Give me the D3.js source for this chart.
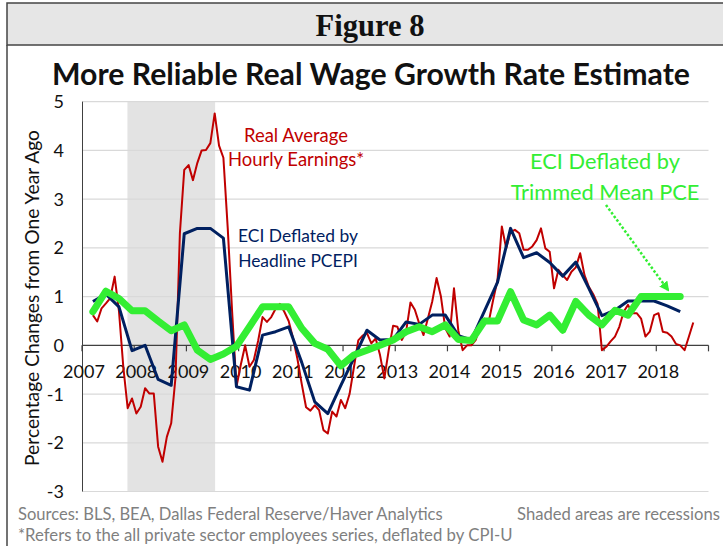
<!DOCTYPE html>
<html>
<head>
<meta charset="utf-8">
<script src="https://cdn.jsdelivr.net/npm/d3@7"></script>
<style>
  html, body { margin: 0; padding: 0; background: #fff; }
  svg { display: block; font-family: Lato, "Open Sans", sans-serif; }
</style>
</head>
<body>
<svg id="chart" width="723" height="546"></svg>
<script>
// Real average hourly earnings, % change y/y, monthly from Mar 2007 to Sep 2018
const earnings = [
  0.62, 0.49, 0.76, 0.86, 0.97, 1.41, 0.7, -0.45, -1.29, -1.09,
  -1.40, -1.26, -0.88, -0.99, -0.99, -2.08, -2.39, -1.88, -1.60, -0.65, 2.3, 3.6,
  3.7, 3.39, 3.74, 4.0, 4.01, 4.15, 4.76, 4.1, 3.85, 2.4, 0.7, -0.85,
  -0.4, 0.0, -0.44, -0.3, 0.1, 0.58, 0.48, 0.58, 0.75, 0.85, 0.69, 0.5,
  0.15, -0.27, -0.79, -1.27, -1.34, -1.23, -1.33, -1.74, -1.81, -1.36, -1.46, -1.12,
  -1.29, -1.0, -0.45, 0.1, 0.2, 0.25, 0.04, 0.14, -0.2, -0.68, -0.1, 0.4,
  0.38, 0.11, 0.28, 0.88, 0.73, 0.45, 0.21, 0.55, 0.9, 1.38, 1.0, 0.35,
  0.18, 1.17, 0.3, -0.1, 0.0, 0.0, 0.11, 0.42, 0.55, 0.49, 0.93, 1.34,
  2.44, 1.99, 2.33, 2.37, 2.3, 1.96, 1.96, 2.03, 2.16, 2.4, 1.99, 1.92,
  1.17, 1.55, 1.44, 1.34, 1.51, 1.6, 1.89, 1.44, 1.2, 1.05, 0.85, -0.1,
  -0.03, 0.08, 0.18, 0.38, 0.69, 0.83, 0.66, 0.66, 0.55, 0.18, 0.28, 0.62,
  0.66, 0.28, 0.26, 0.18, 0.03, 0.0, -0.1, 0.18, 0.47
];
const earningsStartMonth = 2; // March 2007 (0 = Jan 2007)

// ECI deflated by headline PCEPI, quarterly from 2007 Q1 to 2018 Q2
const eciHeadline = [
  0.9, 1.05, 0.79, -0.11,
  0.0, -0.7, -0.82, 2.29,
  2.40, 2.40, 2.2, -0.85,
  -0.92, 0.21, 0.28, 0.38,
  -0.35, -1.16, -1.40, -0.82,
  -0.26, 0.31, 0.11, 0.12,
  0.48, 0.43, 0.62, 0.62,
  0.2, 0.11, 0.7, 1.29,
  2.40, 1.8, 1.9, 1.7,
  1.42, 1.71, 1.17, 0.61,
  0.72, 0.91, 0.91, 0.91,
  0.81, 0.69
];

// ECI deflated by trimmed mean PCE, quarterly from 2007 Q1 to 2018 Q2
const eciTrimmed = [
  0.69, 1.11, 0.96, 0.71,
  0.71, 0.5, 0.30, 0.42,
  -0.1, -0.29, -0.18, -0.02,
  0.38, 0.79, 0.79, 0.79,
  0.35, 0.04, -0.08, -0.42,
  -0.2, -0.1, 0.0, 0.11,
  0.28, 0.38, 0.28, 0.42,
  0.12, 0.10, 0.5, 0.5,
  1.1, 0.52, 0.42, 0.62,
  0.31, 0.9, 0.62, 0.42,
  0.72, 0.62, 1.0, 1.0,
  1.0, 1.0
];
const quarterStartMonth = 2; // first quarter plotted at March

const years = [2007, 2008, 2009, 2010, 2011, 2012, 2013, 2014, 2015, 2016, 2017, 2018];
const yTicks = [-3, -2, -1, 0, 1, 2, 3, 4, 5];
const recession = [2007.87, 2009.55];

const svg = d3.select('#chart');

// month index (0 = Jan 2007) -> decimal year, centred in month
const monthToYear = (m) => 2007 + (m + 0.5) / 12;

const x = d3.scaleLinear().domain([2007, 2019]).range([82, 708.5]);
const y = d3.scaleLinear().domain([-3, 5]).range([491.5, 101.7]);

// shrink/grow a text so it spans a given width, returns the new size
function fitWidth(sel, w) {
  const cur = sel.node().getComputedTextLength();
  const fs = parseFloat(sel.attr('font-size')) * w / cur;
  sel.attr('font-size', fs);
  return fs;
}

// Header box
svg.append('rect')
  .attr('x', 7).attr('y', 3)
  .attr('width', 730).attr('height', 42)
  .attr('fill', '#e6e6e6')
  .attr('stroke', '#444').attr('stroke-width', 1.5);

svg.append('line')
  .attr('x1', 7).attr('x2', 7)
  .attr('y1', 45).attr('y2', 546)
  .attr('stroke', '#444').attr('stroke-width', 1.5);

let fig = svg.append('text')
  .attr('x', 370).attr('y', 36)
  .attr('text-anchor', 'middle')
  .attr('font-family', '"Liberation Serif", "DejaVu Serif", serif')
  .attr('font-weight', 'bold')
  .attr('font-size', 28)
  .attr('fill', '#111')
  .text('Figure 8');
fitWidth(fig, 109);

let title = svg.append('text')
  .attr('x', 371).attr('y', 85)
  .attr('text-anchor', 'middle')
  .attr('font-size', 27)
  .attr('font-weight', 'bold')
  .attr('fill', '#111')
  .text('More Reliable Real Wage Growth Rate Estimate');
fitWidth(title, 638);

// Recession shading
svg.append('rect')
  .attr('x', x(recession[0]))
  .attr('width', x(recession[1]) - x(recession[0]))
  .attr('y', y(5))
  .attr('height', y(-3) - y(5))
  .attr('fill', '#e3e3e3');

// Gridlines
svg.append('g')
  .selectAll('line')
  .data(yTicks.filter((d) => d !== 0))
  .join('line')
  .attr('x1', x(2007)).attr('x2', x(2019))
  .attr('y1', (d) => y(d)).attr('y2', (d) => y(d))
  .attr('stroke', '#d9d9d9').attr('stroke-width', 1.2);

// Y axis line
svg.append('line')
  .attr('x1', x(2007) + 0.5).attr('x2', x(2007) + 0.5)
  .attr('y1', y(5)).attr('y2', y(-3))
  .attr('stroke', '#404040').attr('stroke-width', 1);

// Y tick labels
svg.append('g')
  .selectAll('text')
  .data(yTicks)
  .join('text')
  .attr('x', 64)
  .attr('y', (d) => y(d))
  .attr('dy', '0.36em')
  .attr('text-anchor', 'end')
  .attr('font-size', 18)
  .attr('fill', '#111')
  .text((d) => d);

// Y axis title
let yTitle = svg.append('text')
  .attr('transform', 'translate(39,298) rotate(-90)')
  .attr('text-anchor', 'middle')
  .attr('font-size', 18)
  .attr('fill', '#111')
  .text('Percentage Changes from One Year Ago');
fitWidth(yTitle, 336);

// Zero line with year ticks
svg.append('line')
  .attr('x1', x(2007)).attr('x2', x(2019))
  .attr('y1', y(0)).attr('y2', y(0))
  .attr('stroke', '#404040').attr('stroke-width', 1.2);

svg.append('g')
  .selectAll('line')
  .data(years.concat([2019]))
  .join('line')
  .attr('x1', (d) => x(d)).attr('x2', (d) => x(d))
  .attr('y1', y(0)).attr('y2', y(0) + 6)
  .attr('stroke', '#404040').attr('stroke-width', 1.2);

svg.append('g')
  .selectAll('text')
  .data(years)
  .join('text')
  .attr('x', (d) => x(d) + 2)
  .attr('y', y(0) + 33)
  .attr('text-anchor', 'middle')
  .attr('font-size', 18)
  .attr('fill', '#111')
  .text((d) => d);

// Series
const line = d3.line()
  .x((d) => x(d.t))
  .y((d) => y(d.v));

const redData = earnings.map((v, i) => ({ t: monthToYear(earningsStartMonth + i), v }));
const navyData = eciHeadline.map((v, i) => ({ t: monthToYear(quarterStartMonth + 3 * i), v }));
const greenData = eciTrimmed.map((v, i) => ({ t: monthToYear(quarterStartMonth + 3 * i), v }));

svg.append('path')
  .attr('d', line(redData))
  .attr('fill', 'none')
  .attr('stroke', '#c00000')
  .attr('stroke-width', 2)
  .attr('stroke-linejoin', 'round');

svg.append('path')
  .attr('d', line(navyData))
  .attr('fill', 'none')
  .attr('stroke', '#002060')
  .attr('stroke-width', 3)
  .attr('stroke-linejoin', 'round');

svg.append('path')
  .attr('d', line(greenData))
  .attr('fill', 'none')
  .attr('stroke', '#33ee33')
  .attr('stroke-width', 7)
  .attr('stroke-linejoin', 'round')
  .attr('stroke-linecap', 'round');

// Annotations: first line sets the size, second line uses it too
function label(lines, cx, y0, gap, size, color, width) {
  let fs = size;
  lines.forEach((s, i) => {
    let t = svg.append('text')
      .attr('x', cx).attr('y', y0 + i * gap)
      .attr('text-anchor', 'middle')
      .attr('font-size', fs)
      .attr('fill', color)
      .text(s);
    if (i === 0) fs = fitWidth(t, width);
  });
}
label(['Real Average', 'Hourly Earnings*'], 296, 142, 24, 18, '#c00000', 104);
label(['ECI Deflated by', 'Headline PCEPI'], 298, 242, 25, 18, '#002060', 120);
label(['ECI Deflated by', 'Trimmed Mean PCE'], 605, 169, 31, 21, '#33ee33', 150);

// Dotted arrow
svg.append('defs').append('marker')
  .attr('id', 'arrow')
  .attr('viewBox', '0 0 10 10')
  .attr('refX', 8).attr('refY', 5)
  .attr('markerWidth', 4).attr('markerHeight', 4)
  .attr('orient', 'auto')
  .append('path')
  .attr('d', 'M0,0 L10,5 L0,10 Z')
  .attr('fill', '#33ee33');

svg.append('line')
  .attr('x1', 606).attr('y1', 205)
  .attr('x2', 668).attr('y2', 290)
  .attr('stroke', '#33ee33')
  .attr('stroke-width', 2.5)
  .attr('stroke-dasharray', '2.5,2')
  .attr('marker-end', 'url(#arrow)');

// Footer
const foot = '#7f7f7f';
let s1 = svg.append('text').attr('x', 18).attr('y', 520)
  .attr('font-size', 16).attr('fill', foot)
  .text('Sources: BLS, BEA, Dallas Federal Reserve/Haver Analytics');
fitWidth(s1, 425);
let s2 = svg.append('text').attr('x', 517).attr('y', 520)
  .attr('font-size', 16).attr('fill', foot)
  .text('Shaded areas are recessions');
fitWidth(s2, 203);
let s3 = svg.append('text').attr('x', 18).attr('y', 541)
  .attr('font-size', 16).attr('fill', foot)
  .text('*Refers to the all private sector employees series, deflated by CPI-U');
fitWidth(s3, 495);
</script>
</body>
</html>
